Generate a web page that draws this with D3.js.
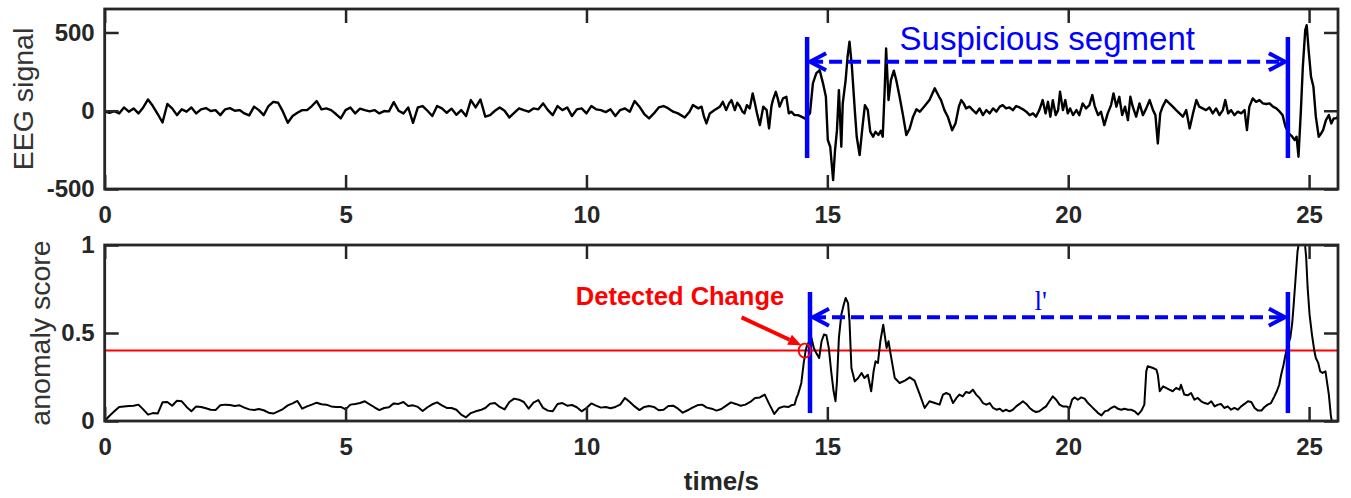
<!DOCTYPE html>
<html>
<head>
<meta charset="utf-8">
<script src="https://cdn.jsdelivr.net/npm/d3@7"></script>
<style>
  body { margin: 0; background: #fff; }
  svg { display: block; }
</style>
</head>
<body>
<svg id="chart" width="1351" height="498"></svg>
<script>
// ---- data ----
const xTicks = [0, 5, 10, 15, 20, 25];
const eegTicks = [-500, 0, 500];
const scoreTicks = [0, 0.5, 1];

// EEG trace: [time (s), amplitude]
const eegSamples = [
  [0,-6],[0.1,-13],[0.2,-2],[0.3,-17],[0.4,21],[0.5,-6],[0.6,15],[0.7,-17],[0.8,21],[0.9,72],
  [1.0,30],[1.1,-21],[1.2,-75],[1.3,43],[1.4,15],[1.5,-28],[1.6,9],[1.7,-6],[1.8,21],[1.9,-17],
  [2.0,9],[2.1,17],[2.2,-2],[2.3,4],[2.4,-28],[2.5,9],[2.6,17],[2.7,0],[2.8,4],[2.9,-17],
  [3.0,-30],[3.1,26],[3.2,4],[3.3,-28],[3.4,30],[3.5,57],[3.6,51],[3.7,-6],[3.8,-77],[3.9,-34],
  [4.0,-13],[4.1,4],[4.2,4],[4.3,30],[4.4,62],[4.5,9],[4.6,15],[4.7,4],[4.8,-21],[4.9,-49],
  [5.0,4],[5.1,21],[5.2,-17],[5.3,13],[5.4,4],[5.5,-4],[5.6,4],[5.7,-17],[5.8,-2],[5.9,-4],
  [6.0,55],[6.1,0],[6.2,-17],[6.3,21],[6.4,-77],[6.5,21],[6.6,30],[6.7,0],[6.8,-34],[6.9,30],
  [7.0,15],[7.1,-13],[7.2,13],[7.3,-26],[7.4,4],[7.5,-34],[7.6,68],[7.7,21],[7.8,72],[7.9,-38],
  [8.0,-28],[8.1,0],[8.2,21],[8.3,0],[8.4,-43],[8.5,-13],[8.6,15],[8.7,4],[8.8,-6],[8.9,15],
  [9.0,9],[9.1,47],[9.2,4],[9.3,-28],[9.4,30],[9.5,4],[9.6,21],[9.7,-34],[9.8,9],[9.9,15],
  [10.0,-17],[10.1,30],[10.2,9],[10.3,4],[10.4,-9],[10.5,9],[10.6,-34],[10.7,4],[10.8,15],[10.9,-6],
  [11.0,62],[11.1,26],[11.2,-21],[11.3,-49],[11.4,-17],[11.5,21],[11.6,30],[11.7,15],[11.8,-6],[11.9,-17],
  [12.04,-43],[12.14,-6],[12.21,36],[12.32,15],[12.39,26],[12.44,-38],[12.49,-81],[12.56,-17],[12.66,4],
  [12.77,26],[12.83,57],[12.9,4],[12.96,47],[13.01,68],[13.08,4],[13.13,51],[13.18,30],[13.24,-6],
  [13.28,-17],[13.33,36],[13.39,15],[13.45,111],[13.5,43],[13.54,-17],[13.6,-92],[13.67,26],[13.74,4],
  [13.79,-113],[13.84,30],[13.87,68],[13.93,121],[13.97,79],[14.01,26],[14.08,79],[14.15,89],[14.2,-17],
  [14.25,-6],[14.32,-28],[14.39,-28],[14.46,-38],[14.53,-49],[14.57,-38],[14.64,-17],[14.7,175],
  [14.77,239],[14.84,260],[14.91,175],[14.97,89],[15.01,-187],[15.06,-230],[15.12,-443],[15.16,-251],
  [15.2,-124],[15.24,132],[15.29,-230],[15.32,47],[15.38,196],[15.42,345],[15.46,441],[15.51,281],
  [15.57,4],[15.61,-166],[15.67,-283],[15.73,-102],[15.78,36],[15.84,4],[15.89,-134],[15.95,-166],
  [16.0,-134],[16.06,-155],[16.11,-128],[16.15,-166],[16.19,132],[16.22,398],[16.27,68],[16.32,196],
  [16.38,256],[16.43,196],[16.5,89],[16.57,-28],[16.64,-155],[16.71,-113],[16.78,-38],[16.85,9],
  [16.92,-6],[17.02,30],[17.12,68],[17.23,143],[17.32,89],[17.36,68],[17.43,4],[17.5,-38],[17.59,-124],
  [17.66,-81],[17.73,26],[17.78,68],[17.83,47],[17.88,15],[17.95,26],[18.02,4],[18.09,-17],[18.16,15],
  [18.23,-28],[18.3,4],[18.37,-17],[18.44,15],[18.51,-6],[18.58,26],[18.64,36],[18.71,15],[18.78,21],
  [18.85,4],[18.92,30],[18.99,21],[19.06,9],[19.13,-6],[19.2,-28],[19.27,-17],[19.33,-38],[19.4,4],
  [19.47,68],[19.53,-17],[19.58,57],[19.63,-38],[19.68,68],[19.74,-28],[19.79,4],[19.83,121],[19.89,4],
  [19.94,68],[19.99,-17],[20.04,15],[20.1,-28],[20.17,4],[20.23,-28],[20.3,47],[20.37,15],[20.44,36],
  [20.5,100],[20.55,30],[20.62,-28],[20.68,-6],[20.75,-92],[20.82,-17],[20.89,36],[20.94,111],[21.0,26],
  [21.06,89],[21.12,-28],[21.18,26],[21.24,-60],[21.29,89],[21.34,26],[21.41,-38],[21.48,47],[21.55,-28],
  [21.62,15],[21.69,68],[21.76,4],[21.81,-28],[21.86,-209],[21.91,-17],[21.96,26],[22.03,68],[22.1,47],
  [22.17,26],[22.24,4],[22.31,-17],[22.38,-38],[22.45,4],[22.52,-113],[22.59,-17],[22.66,68],[22.72,26],
  [22.79,15],[22.86,4],[22.93,21],[23.0,-17],[23.07,15],[23.14,-28],[23.21,4],[23.26,68],[23.32,-17],
  [23.38,4],[23.45,-28],[23.52,-6],[23.59,-17],[23.66,4],[23.71,-124],[23.76,26],[23.83,79],[23.9,57],
  [23.97,68],[24.04,47],[24.11,43],[24.18,47],[24.25,26],[24.32,15],[24.39,-6],[24.45,-28],[24.51,-102],
  [24.58,-145],[24.65,-166],[24.7,-187],[24.74,-166],[24.78,-294],[24.83,4],[24.87,281],[24.92,515],
  [24.95,547],[24.99,388],[25.04,217],[25.09,153],[25.14,-38],[25.2,-166],[25.25,-145],[25.29,-124],
  [25.35,-60],[25.41,-28],[25.46,-81],[25.51,-49],[25.56,-49],[25.6,-38]
];

// Anomaly score: [time (s), score]
const scoreSamples = [
  [0,0],[0.1,0.03],[0.2,0.055],[0.3,0.08],[0.4,0.083],[0.5,0.085],[0.6,0.087],[0.7,0.093],[0.8,0.066],[0.9,0.036],
  [1.0,0.045],[1.1,0.042],[1.2,0.106],[1.3,0.108],[1.4,0.087],[1.5,0.115],[1.6,0.112],[1.7,0.08],[1.8,0.055],[1.9,0.083],
  [2.0,0.08],[2.1,0.072],[2.2,0.064],[2.3,0.062],[2.4,0.089],[2.5,0.093],[2.6,0.091],[2.7,0.085],[2.8,0.089],[2.9,0.076],
  [3.0,0.066],[3.1,0.062],[3.2,0.068],[3.3,0.061],[3.4,0.047],[3.5,0.042],[3.6,0.055],[3.7,0.068],[3.8,0.089],[3.9,0.1],
  [4.0,0.114],[4.1,0.07],[4.2,0.083],[4.3,0.093],[4.4,0.104],[4.5,0.095],[4.6,0.093],[4.7,0.083],[4.8,0.08],[4.9,0.08],
  [5.0,0.066],[5.1,0.093],[5.2,0.097],[5.3,0.102],[5.4,0.112],[5.5,0.095],[5.6,0.078],[5.7,0.062],[5.8,0.074],[5.9,0.078],
  [6.0,0.1],[6.1,0.097],[6.2,0.108],[6.3,0.085],[6.4,0.089],[6.5,0.08],[6.6,0.057],[6.7,0.078],[6.8,0.095],[6.9,0.106],
  [7.0,0.089],[7.1,0.074],[7.2,0.074],[7.3,0.064],[7.4,0.036],[7.5,0.021],[7.6,0.045],[7.7,0.055],[7.8,0.062],[7.9,0.074],
  [8.0,0.098],[8.1,0.102],[8.2,0.08],[8.3,0.066],[8.4,0.108],[8.5,0.127],[8.6,0.121],[8.7,0.108],[8.8,0.07],[8.9,0.104],
  [9.0,0.119],[9.1,0.074],[9.2,0.059],[9.3,0.055],[9.4,0.097],[9.5,0.102],[9.6,0.087],[9.7,0.091],[9.8,0.078],[9.9,0.055],
  [10.0,0.074],[10.1,0.1],[10.2,0.087],[10.3,0.076],[10.4,0.08],[10.5,0.072],[10.6,0.08],[10.7,0.093],[10.8,0.131],[10.9,0.108],
  [11.0,0.083],[11.1,0.062],[11.2,0.08],[11.3,0.085],[11.4,0.08],[11.5,0.061],[11.6,0.064],[11.7,0.085],[11.8,0.087],[11.9,0.07],
  [12.0,0.047],[12.1,0.061],[12.2,0.076],[12.3,0.089],[12.4,0.093],[12.5,0.076],[12.6,0.07],[12.7,0.059],[12.8,0.068],[12.9,0.087],
  [13.0,0.106],[13.1,0.097],[13.2,0.087],[13.3,0.093],[13.4,0.108],[13.5,0.131],[13.6,0.134],[13.7,0.15],[13.8,0.093],[13.9,0.04],
  [14.0,0.074],[14.1,0.083],[14.2,0.08],[14.25,0.089],[14.32,0.093],[14.36,0.131],[14.39,0.15],[14.46,0.216],
  [14.51,0.33],[14.55,0.4],[14.58,0.43],[14.62,0.45],[14.67,0.472],[14.72,0.415],[14.77,0.386],[14.83,0.358],
  [14.88,0.453],[14.93,0.491],[14.98,0.487],[15.03,0.415],[15.08,0.282],[15.13,0.169],[15.17,0.112],[15.2,0.225],
  [15.24,0.472],[15.29,0.604],[15.34,0.661],[15.38,0.699],[15.43,0.67],[15.46,0.566],[15.5,0.301],[15.57,0.225],
  [15.64,0.244],[15.71,0.273],[15.77,0.244],[15.84,0.263],[15.91,0.169],[15.96,0.282],[16.0,0.339],[16.05,0.33],
  [16.1,0.453],[16.16,0.547],[16.23,0.415],[16.27,0.453],[16.31,0.386],[16.4,0.244],[16.5,0.216],[16.61,0.229],
  [16.71,0.248],[16.81,0.229],[16.92,0.15],[17.02,0.074],[17.12,0.112],[17.23,0.102],[17.33,0.093],[17.4,0.15],
  [17.47,0.159],[17.54,0.15],[17.61,0.102],[17.68,0.131],[17.74,0.15],[17.81,0.14],[17.88,0.165],[17.95,0.159],
  [18.02,0.178],[18.09,0.15],[18.16,0.131],[18.23,0.102],[18.3,0.093],[18.37,0.102],[18.44,0.074],[18.51,0.064],
  [18.58,0.07],[18.64,0.055],[18.71,0.064],[18.78,0.055],[18.85,0.064],[18.92,0.083],[18.99,0.097],[19.06,0.112],
  [19.13,0.097],[19.2,0.074],[19.27,0.059],[19.33,0.051],[19.4,0.055],[19.47,0.07],[19.54,0.083],[19.61,0.112],
  [19.68,0.14],[19.75,0.121],[19.82,0.093],[19.89,0.083],[19.96,0.083],[20.03,0.074],[20.08,0.121],[20.13,0.134],
  [20.2,0.121],[20.27,0.134],[20.34,0.127],[20.41,0.102],[20.48,0.083],[20.55,0.064],[20.62,0.045],[20.69,0.032],
  [20.76,0.055],[20.82,0.059],[20.89,0.074],[20.96,0.083],[21.03,0.07],[21.1,0.064],[21.17,0.07],[21.24,0.064],
  [21.31,0.064],[21.38,0.055],[21.45,0.036],[21.52,0.059],[21.58,0.093],[21.62,0.282],[21.65,0.311],[21.76,0.301],
  [21.83,0.292],[21.86,0.263],[21.9,0.169],[21.97,0.197],[22.03,0.188],[22.1,0.178],[22.17,0.169],[22.24,0.188],
  [22.31,0.178],[22.34,0.206],[22.41,0.15],[22.48,0.146],[22.55,0.159],[22.62,0.121],[22.69,0.131],[22.76,0.112],
  [22.83,0.102],[22.9,0.097],[22.97,0.112],[23.04,0.083],[23.11,0.093],[23.17,0.097],[23.24,0.074],[23.31,0.083],
  [23.38,0.064],[23.45,0.074],[23.52,0.064],[23.59,0.083],[23.66,0.097],[23.73,0.112],[23.8,0.108],[23.87,0.074],
  [23.94,0.059],[24.01,0.059],[24.07,0.078],[24.14,0.093],[24.21,0.102],[24.28,0.14],[24.33,0.169],[24.38,0.206],
  [24.42,0.263],[24.47,0.32],[24.51,0.377],[24.56,0.434],[24.61,0.472],[24.65,0.557],[24.68,0.661],[24.72,0.8125],
  [24.76,0.964],[24.8,1.03],[24.86,1.06],[24.91,1.02],[24.94,0.926],[24.97,0.756],[25.01,0.604],[25.06,0.49],
  [25.11,0.396],[25.14,0.358],[25.19,0.33],[25.23,0.282],[25.28,0.273],[25.34,0.282],[25.37,0.225],[25.41,0.15],
  [25.45,0.036],[25.48,-0.02]
];

const threshold = 0.4;
const detectionPoint = [14.53, 0.4];
const segmentTop = [14.58, 24.56];
const segmentBottom = [14.64, 24.56];

// ---- layout ----
const svg = d3.select("#chart");
const AXIS = "#262626";
const BLUE = "#0000ff";
const RED = "#ff0000";
const SANS = "'Liberation Sans', Arial, Helvetica, sans-serif";

const x = d3.scaleLinear().domain([0, 25.6]).range([104.7, 1338]);
const yE = d3.scaleLinear().domain([-500, 650]).range([189, 9]);
const yS = d3.scaleLinear().domain([0, 1]).range([421, 245]);

const [X0, X1] = x.range();

function clipFor(id, y) {
  const [bottom, top] = y.range();
  svg.append("clipPath").attr("id", id)
    .append("rect").attr("x", X0).attr("y", top)
    .attr("width", X1 - X0).attr("height", bottom - top);
  return `url(#${id})`;
}

function drawAxes(y, ticks) {
  const [bottom, top] = y.range();
  const g = svg.append("g");
  const style = sel => {
    sel.select(".domain").remove();
    sel.selectAll(".tick line").attr("stroke", AXIS).attr("stroke-width", 2.5);
    sel.attr("font-family", SANS).attr("font-size", 24).attr("font-weight", "bold").attr("color", AXIS);
  };
  g.append("g").attr("transform", `translate(0,${bottom})`)
    .call(d3.axisBottom(x).tickValues(xTicks).tickSize(-14).tickPadding(17).tickFormat(d => String(d)))
    .call(style);
  g.append("g").attr("transform", `translate(0,${top})`)
    .call(d3.axisTop(x).tickValues(xTicks).tickSize(-14).tickFormat(""))
    .call(style);
  g.append("g").attr("transform", `translate(${X0},0)`)
    .call(d3.axisLeft(y).tickValues(ticks).tickSize(-14).tickPadding(10).tickFormat(d => String(d)))
    .call(style);
  g.append("g").attr("transform", `translate(${X1},0)`)
    .call(d3.axisRight(y).tickValues(ticks).tickSize(-14).tickFormat(""))
    .call(style);
  g.append("rect").attr("x", X0).attr("y", top)
    .attr("width", X1 - X0).attr("height", bottom - top)
    .attr("fill", "none").attr("stroke", AXIS).attr("stroke-width", 2.8);
}

// dashed double-headed dimension arrow between two x positions
function dimArrow(xa, xb, yy) {
  const g = svg.append("g").attr("stroke", BLUE).attr("stroke-width", 4).attr("fill", "none");
  g.append("line").attr("x1", xa + 3).attr("x2", xb - 3).attr("y1", yy).attr("y2", yy)
    .attr("stroke-dasharray", "13,6");
  g.append("path").attr("d", `M${xa + 19},${yy - 8.5}L${xa + 3},${yy}L${xa + 19},${yy + 8.5}`)
    .attr("stroke-linejoin", "miter");
  g.append("path").attr("d", `M${xb - 19},${yy - 8.5}L${xb - 3},${yy}L${xb - 19},${yy + 8.5}`)
    .attr("stroke-linejoin", "miter");
}

// ---- top panel: EEG signal ----
const clipTop = clipFor("clip-eeg", yE);
svg.append("path").datum(eegSamples)
  .attr("clip-path", clipTop)
  .attr("fill", "none").attr("stroke", "#000").attr("stroke-width", 2.4)
  .attr("stroke-linejoin", "round")
  .attr("d", d3.line().x(d => x(d[0])).y(d => yE(d[1])));

segmentTop.forEach(t => {
  svg.append("line").attr("x1", x(t)).attr("x2", x(t))
    .attr("y1", yE(471)).attr("y2", yE(-302))
    .attr("stroke", BLUE).attr("stroke-width", 4.5);
});
dimArrow(x(segmentTop[0]), x(segmentTop[1]), yE(313));
svg.append("text").attr("x", x(16.5)).attr("y", yE(388))
  .attr("font-family", SANS).attr("font-size", 33).attr("fill", BLUE)
  .text("Suspicious segment");

drawAxes(yE, eegTicks);

// ---- bottom panel: anomaly score ----
const clipBottom = clipFor("clip-score", yS);
svg.append("line").attr("x1", X0).attr("x2", X1)
  .attr("y1", yS(threshold)).attr("y2", yS(threshold))
  .attr("stroke", RED).attr("stroke-width", 2);

svg.append("path").datum(scoreSamples)
  .attr("clip-path", clipBottom)
  .attr("fill", "none").attr("stroke", "#000").attr("stroke-width", 2)
  .attr("stroke-linejoin", "round")
  .attr("d", d3.line().x(d => x(d[0])).y(d => yS(d[1])));

segmentBottom.forEach(t => {
  svg.append("line").attr("x1", x(t)).attr("x2", x(t))
    .attr("y1", yS(0.733)).attr("y2", yS(0.045))
    .attr("stroke", BLUE).attr("stroke-width", 4.5);
});
dimArrow(x(segmentBottom[0]), x(segmentBottom[1]), yS(0.59));
svg.append("text").attr("x", x(19.3)).attr("y", yS(0.632))
  .attr("font-family", "'Liberation Serif', 'Times New Roman', serif")
  .attr("font-size", 27).attr("fill", BLUE).text("l'");

// detection marker and its callout
svg.append("ellipse").attr("cx", x(detectionPoint[0])).attr("cy", yS(detectionPoint[1]))
  .attr("rx", 6).attr("ry", 7).attr("fill", "none").attr("stroke", RED).attr("stroke-width", 1.8);

const ax0 = x(13.22), ay0 = yS(0.589), ax1 = x(14.46), ay1 = yS(0.43);
const ang = Math.atan2(ay1 - ay0, ax1 - ax0);
const headLen = 13, headHalf = 5.5;
const bx = ax1 - headLen * Math.cos(ang), by = ay1 - headLen * Math.sin(ang);
svg.append("line").attr("x1", ax0).attr("y1", ay0).attr("x2", bx).attr("y2", by)
  .attr("stroke", RED).attr("stroke-width", 4);
svg.append("path")
  .attr("d", `M${ax1},${ay1}L${bx - headHalf * Math.sin(ang)},${by + headHalf * Math.cos(ang)}L${bx + headHalf * Math.sin(ang)},${by - headHalf * Math.cos(ang)}Z`)
  .attr("fill", RED);

svg.append("text").attr("x", x(9.78)).attr("y", yS(0.661))
  .attr("font-family", SANS).attr("font-size", 25.5).attr("font-weight", "bold").attr("fill", RED)
  .text("Detected Change");

drawAxes(yS, scoreTicks);

// ---- axis titles ----
svg.append("text").attr("transform", "translate(32.5,99) rotate(-90)")
  .attr("text-anchor", "middle").attr("font-family", SANS).attr("font-size", 28.5).attr("fill", "#333")
  .text("EEG signal");
svg.append("text").attr("transform", "translate(50,333) rotate(-90)")
  .attr("text-anchor", "middle").attr("font-family", SANS).attr("font-size", 28.5).attr("fill", "#333")
  .text("anomaly score");
svg.append("text").attr("x", (X0 + X1) / 2).attr("y", 490)
  .attr("text-anchor", "middle").attr("font-family", SANS).attr("font-size", 26).attr("font-weight", "bold").attr("fill", AXIS)
  .text("time/s");
</script>
</body>
</html>
